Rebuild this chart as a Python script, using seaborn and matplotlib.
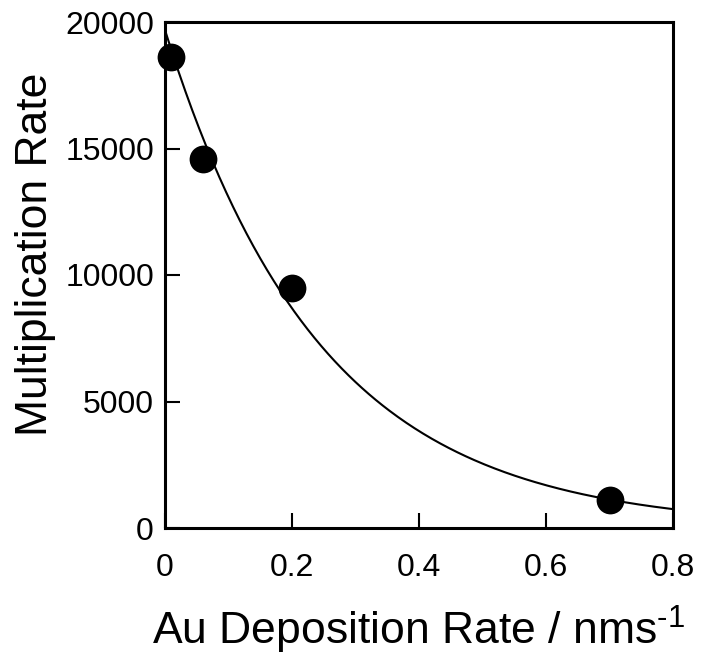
import numpy as np
import pandas as pd
import matplotlib
matplotlib.use("Agg")
import matplotlib.pyplot as plt
import seaborn as sns

# Data
deposition_rate = [0.01, 0.06, 0.20, 0.70]          # nm s^-1
multiplication_rate = [18600, 14600, 9500, 1100]

x_ticks = [0, 0.2, 0.4, 0.6, 0.8]
x_tick_labels = ["0", "0.2", "0.4", "0.6", "0.8"]
y_ticks = [0, 5000, 10000, 15000, 20000]
y_tick_labels = ["0", "5000", "10000", "15000", "20000"]

sns.set_style("white")
plt.rcParams["font.family"] = ["Liberation Sans", "DejaVu Sans"]
plt.rcParams["mathtext.fontset"] = "custom"
plt.rcParams["mathtext.rm"] = "Liberation Sans"
plt.rcParams["mathtext.default"] = "rm"
plt.rcParams["text.color"] = "black"
plt.rcParams["axes.labelcolor"] = "black"
plt.rcParams["xtick.color"] = "black"
plt.rcParams["ytick.color"] = "black"

df = pd.DataFrame({"x": deposition_rate, "y": multiplication_rate})

# Exponential fit through the measured points (log-linear least squares)
slope, intercept = np.polyfit(df["x"], np.log(df["y"]), 1)
fit_x = np.linspace(0, 0.8, 300)
fit_df = pd.DataFrame({"x": fit_x, "y": np.exp(intercept + slope * fit_x)})

fig = plt.figure(figsize=(7.01, 6.57), dpi=100)
ax = fig.add_axes([165 / 701, 1 - 528 / 657, 508 / 701, 506 / 657])

sns.lineplot(data=fit_df, x="x", y="y", color="black", linewidth=1.5, ax=ax, zorder=2)
sns.scatterplot(data=df, x="x", y="y", color="black", s=400, linewidth=0,
                ax=ax, zorder=3, clip_on=False)

ax.set_xlim(0, 0.8)
ax.set_ylim(0, 20000)
ax.set_xticks(x_ticks)
ax.set_xticklabels(x_tick_labels)
ax.set_yticks(y_ticks)
ax.set_yticklabels(y_tick_labels)

ax.tick_params(bottom=True, left=True, direction="in", length=11, width=1.5,
               labelsize=23, color="black", labelcolor="black")
ax.tick_params(axis="x", pad=18)
ax.tick_params(axis="y", pad=8)

for sp in ax.spines.values():
    sp.set_linewidth(2.2)
    sp.set_color("black")

ax.set_xlabel(r"Au Deposition Rate / nms$^{\text{-}1}$", fontsize=32, color="black")
ax.set_ylabel("Multiplication Rate", fontsize=32, color="black")
ax.xaxis.set_label_coords(0.5, -0.150)
ax.yaxis.set_label_coords(-0.215, 0.54)

fig.savefig("out.png", dpi=100)
